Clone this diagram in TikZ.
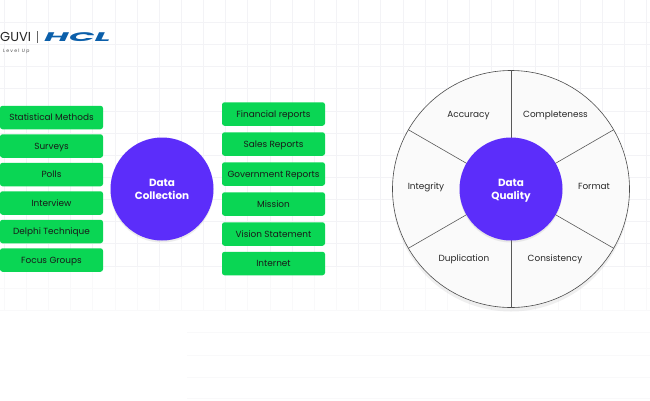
\documentclass[tikz,border=0pt]{standalone}
\usepackage{fontspec}
\usepackage{graphicx}
\setmainfont{Poppins}
\usetikzlibrary{shadows, calc}
\definecolor{guviviolet}{RGB}{92, 45, 250}
\definecolor{guvigreen}{RGB}{10, 214, 84}
\definecolor{hclblue}{RGB}{11, 95, 170}
\definecolor{gridgray}{RGB}{243, 243, 246}
\definecolor{gridfade}{RGB}{249, 249, 250}
\definecolor{wheelfill}{RGB}{250, 250, 250}

\begin{document}
\begin{tikzpicture}[
    x=1pt, y=-1pt,
    srcbox/.style={rectangle, fill=guvigreen, rounded corners=2.5pt, minimum width=103pt, minimum height=23.5pt, inner sep=0pt, align=center, text height=7pt, text depth=1pt, font=\fontsize{8.9}{10}\selectfont, text=black!90},
    hub/.style={circle, fill=guviviolet, minimum size=103pt, inner sep=0pt, align=center, text=white, text depth=0pt, font=\fontsize{10.4}{13}\bfseries\selectfont, drop shadow={shadow xshift=0pt, shadow yshift=-2pt, opacity=0.15}},
    wheel/.style={circle, draw=black!70, fill=wheelfill, line width=0.6pt, minimum size=237pt, inner sep=0pt, drop shadow={shadow xshift=0pt, shadow yshift=-4pt, opacity=0.12}},
    spoke/.style={draw=black!65, line width=0.6pt},
    lab/.style={text height=7pt, text depth=1pt, font=\fontsize{8.9}{10}\selectfont, text=black!85}
]
\useasboundingbox (0,0) rectangle (650,400);
\fill[white] (0,0) rectangle (650,400);

% Grid
\foreach \gx in {0,...,29} {
    \draw[gridgray, line width=0.4pt] ({4+\gx*22.15},0) -- ({4+\gx*22.15},266);
    \draw[gridfade, line width=0.4pt] ({4+\gx*22.15},266) -- ({4+\gx*22.15},310);
}
\foreach \gy in {1,...,12}
    \draw[gridgray, line width=0.4pt] (0,{\gy*22.15}) -- (650,{\gy*22.15});
\foreach \gy in {288,310}
    \draw[gridfade, line width=0.4pt] (0,\gy) -- (650,\gy);
\foreach \gy in {332,355,377,398}
    \draw[gridfade, line width=0.4pt] (187,\gy) -- (650,\gy);

% Logo
\node[anchor=west, inner sep=0pt, font=\fontsize{13}{13}\selectfont, text=black!85] (guvi) at (0,37) {GUVI};
\node[inner sep=0pt, minimum width=0.5pt, minimum height=12pt, fill=black!60] (logobar) at (37.5,36.5) {};
\node[anchor=west, inner sep=0pt, font=\fontsize{12.5}{12.5}\bfseries\itshape\selectfont, text=hclblue] (hcl) at (44,37) {\scalebox{2.7}[1]{HCL}};
\node[anchor=west, inner sep=0pt, font=\fontsize{4.6}{4.6}\selectfont, text=black!70] (levelup) at (3,51.5) {L e v e l\ \ U p};

% Left column
\node[srcbox] (stat) at (51.5,117.5) {Statistical Methods};
\node[srcbox] (surveys) at (51.5,146) {Surveys};
\node[srcbox] (polls) at (51.5,174.5) {Polls};
\node[srcbox] (interview) at (51.5,203) {Interview};
\node[srcbox] (delphi) at (51.5,231.5) {Delphi Technique};
\node[srcbox] (focus) at (51.5,260) {Focus Groups};

\node[hub] (collection) at (162,189) {Data\\Collection};

% Right column
\node[srcbox] (financial) at (273.5,114) {Financial reports};
\node[srcbox] (sales) at (273.5,144) {Sales Reports};
\node[srcbox] (government) at (273.5,174) {Government Reports};
\node[srcbox] (mission) at (273.5,204) {Mission};
\node[srcbox] (vision) at (273.5,234) {Vision Statement};
\node[srcbox] (internet) at (273.5,263.5) {Internet};

% Wheel
\node[wheel] (outer) at (511,189) {};
\foreach \ang in {30,90,150,210,270,330}
    \draw[spoke] (outer.center) -- (outer.\ang);
\node[hub] (quality) at (511,189) {Data\\Quality};

\node[lab] (accuracy) at (468.5,114.5) {Accuracy};
\node[lab] (completeness) at (555.5,114.5) {Completeness};
\node[lab] (integrity) at (426,186) {Integrity};
\node[lab] (format) at (594,186) {Format};
\node[lab] (duplication) at (464,258) {Duplication};
\node[lab] (consistency) at (555,258) {Consistency};

\end{tikzpicture}
\end{document}
